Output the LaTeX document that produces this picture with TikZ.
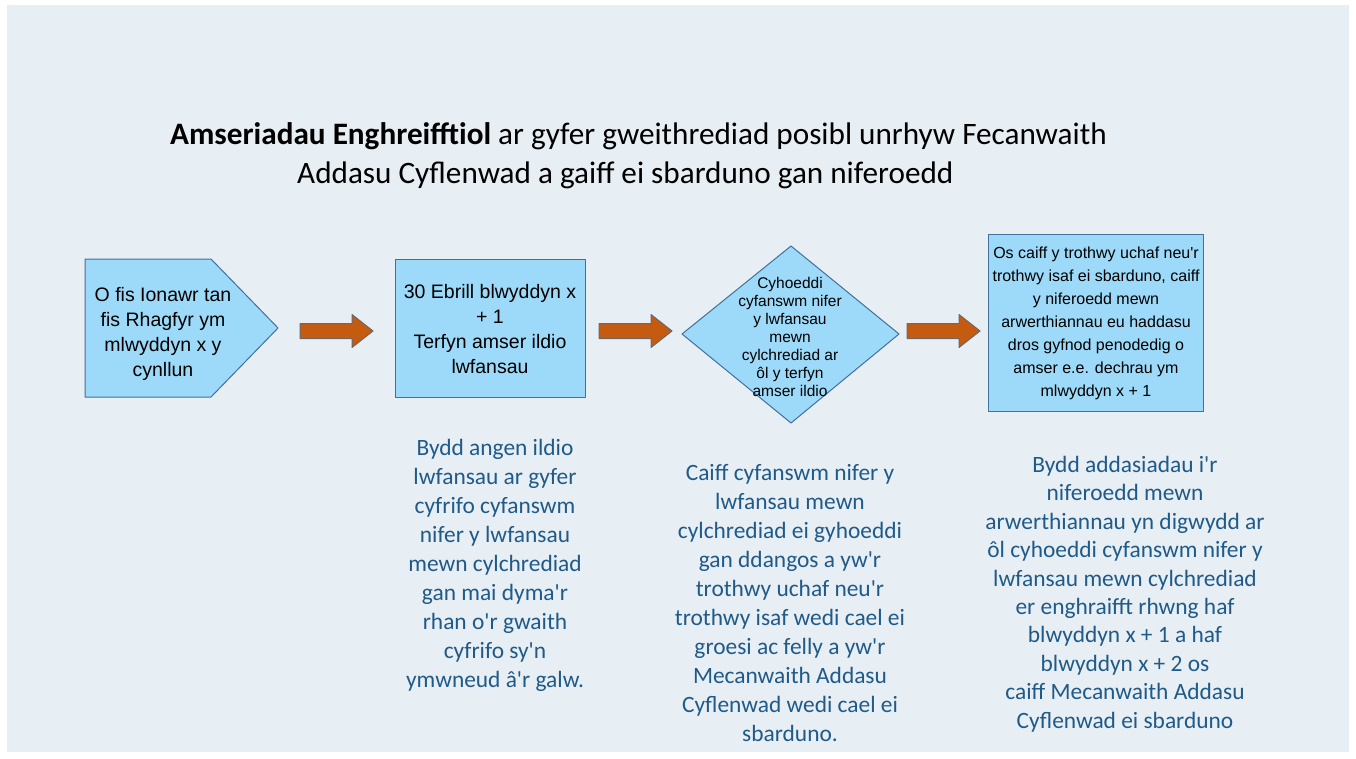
\documentclass[tikz,border=0pt]{standalone}
\usepackage{fontspec}
\setmainfont{Liberation Sans}
\newfontfamily\arial{Liberation Sans}
\newfontfamily\calibri{Carlito}
\usetikzlibrary{shapes.geometric,calc,positioning}
\definecolor{panel}{RGB}{231,238,244}
\definecolor{boxfill}{RGB}{157,217,248}
\definecolor{boxline}{RGB}{65,113,156}
\definecolor{arrfill}{RGB}{197,90,17}
\definecolor{arrline}{RGB}{105,105,105}
\definecolor{notes}{RGB}{31,90,136}
\begin{document}
\begin{tikzpicture}[x=1pt,y=-1pt,line join=round,
  box/.style={draw=boxline,fill=boxfill,line width=1pt},
  boxtext/.style={align=center,inner sep=0pt,font=\arial\fontsize{19.5}{25}\selectfont},
  notetext/.style={align=center,inner sep=0pt,text=notes,font=\calibri\fontsize{23.4}{29}\selectfont},
  titletext/.style={anchor=base west,inner sep=0pt,font=\calibri\fontsize{31.2}{38}\selectfont},
  blockarrow/.style={draw=arrline,fill=arrfill,line width=1pt}]
\useasboundingbox (0,0) rectangle (1356,758);
\fill[white] (0,0) rectangle (1356,758);
\fill[panel] (7,5) rectangle (1349,752);
\node[titletext] (title1) at (170,144) {\textbf{Amseriadau Enghreifftiol} ar gyfer gweithrediad posibl unrhyw Fecanwaith};
\node[titletext] (title2) at (297,183) {Addasu Cyflenwad a gaiff ei sbarduno gan niferoedd};
\coordinate (P1) at (85,259);
\coordinate (P2) at (211,259);
\coordinate (P3) at (278,328);
\coordinate (P4) at (211,397);
\coordinate (P5) at (85,397);
\draw[box] (P1)--(P2)--(P3)--(P4)--(P5)--cycle;
\node[boxtext] (plan) at (163,334) {O fis Ionawr tan\\fis Rhagfyr ym\\mlwyddyn x y\\cynllun};
\draw[box] (395,259) rectangle (585,397);
\node[boxtext] (deadline) at (490,329) {30 Ebrill blwyddyn x\\+ 1\\Terfyn amser ildio\\lwfansau};
\coordinate (D1) at (791,246);
\coordinate (D2) at (899,334);
\coordinate (D3) at (791,423);
\coordinate (D4) at (682,334);
\draw[box] (D1)--(D2)--(D3)--(D4)--cycle;
\node[align=center,inner sep=0pt,font=\arial\fontsize{15.5}{18}\selectfont] (publish) at (790,337) {Cyhoeddi\\cyfanswm nifer\\y lwfansau\\mewn\\cylchrediad ar\\ôl y terfyn\\amser ildio};
\draw[box] (988,234) rectangle (1203,411);
\node[align=center,inner sep=0pt,font=\arial\fontsize{16}{23}\selectfont] (adjust) at (1096,323) {Os caiff y trothwy uchaf neu'r\\trothwy isaf ei sbarduno, caiff\\y niferoedd mewn\\arwerthiannau eu haddasu\\dros gyfnod penodedig o\\amser e.e. dechrau ym\\mlwyddyn x + 1};
\foreach \x/\n in {300/a1,599/a2,907/a3}{
  \coordinate (\n) at (\x,323.5);
  \draw[blockarrow] (\n) -- ++(52,0) -- ++(0,-9) -- ++(21,16.5) -- ++(-21,16.5) -- ++(0,-9) -- ++(-52,0) -- cycle;}
\node[notetext] (note2) at (495,565) {Bydd angen ildio\\lwfansau ar gyfer\\cyfrifo cyfanswm\\nifer y lwfansau\\mewn cylchrediad\\gan mai dyma'r\\rhan o'r gwaith\\cyfrifo sy'n\\ymwneud â'r galw.};
\node[notetext] (note3) at (790,603) {Caiff cyfanswm nifer y\\lwfansau mewn\\cylchrediad ei gyhoeddi\\gan ddangos a yw'r\\trothwy uchaf neu'r\\trothwy isaf wedi cael ei\\groesi ac felly a yw'r\\Mecanwaith Addasu\\Cyflenwad wedi cael ei\\sbarduno.};
\node[notetext,font=\calibri\fontsize{23.4}{28.4}\selectfont] (note4) at (1125,594) {Bydd addasiadau i'r\\niferoedd mewn\\arwerthiannau yn digwydd ar\\ôl cyhoeddi cyfanswm nifer y\\lwfansau mewn cylchrediad\\er enghraifft rhwng haf\\blwyddyn x + 1 a haf\\blwyddyn x + 2 os\\caiff Mecanwaith Addasu\\Cyflenwad ei sbarduno};
\end{tikzpicture}
\end{document}
